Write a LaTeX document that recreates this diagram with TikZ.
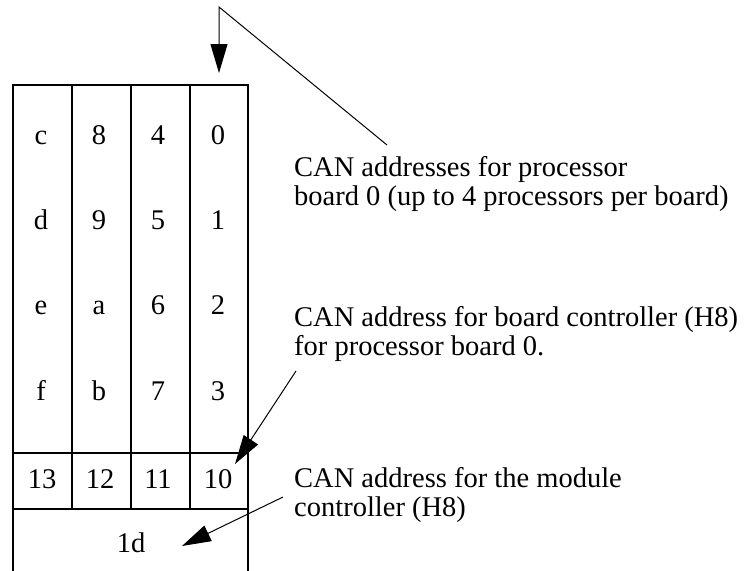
\documentclass[tikz,border=0pt]{standalone}
\usepackage{fontspec}
\setmainfont{Liberation Serif}
\usetikzlibrary{arrows.meta}
\tikzset{
  boxline/.style={line width=1.3pt, black},
  cell/.style={inner sep=0pt, anchor=base, font=\fontsize{28.5}{29}\selectfont},
  note/.style={inner sep=0pt, anchor=base west, align=left, font=\fontsize{28.5}{29}\selectfont},
  callout/.style={line width=1pt, -{Triangle[length=29pt,width=17pt]}},
  plainline/.style={line width=1pt}
}
\begin{document}
\begin{tikzpicture}[x=1pt,y=-1pt]
\useasboundingbox (0,0) rectangle (756,571);
% box outline
\draw[boxline] (13,571) -- (13,85) -- (248,85) -- (248,571);
\draw[boxline] (13,453) -- (248,453);
\draw[boxline] (13,509) -- (248,509);
\draw[boxline] (72,85) -- (72,509);
\draw[boxline] (131,85) -- (131,509);
\draw[boxline] (190,85) -- (190,509);
% cells
\foreach \t/\x/\y/\n in {c/41/144/c1, 8/99/144/c2, 4/158/144/c3, 0/218/144/c4,
  d/41/229/d1, 9/99/229/d2, 5/158/229/d3, 1/218/229/d4,
  e/41/314.5/e1, a/99/314.5/e2, 6/158/314.5/e3, 2/218/314.5/e4,
  f/41/400/f1, b/99/400/f2, 7/158/400/f3, 3/218/400/f4,
  13/42/488/g1, 12/100/488/g2, 11/158/488/g3, 10/218/488/g4}
  \node[cell] (\n) at (\x,\y) {\t};
\node[cell] (m) at (131,552) {1d};
% notes (base anchor = baseline of the last line)
\node[note] (n1) at (294,205.5) {CAN addresses for processor\\board 0 (up to 4 processors per board)};
\node[note] (n2) at (294,355) {CAN address for board controller (H8)\\for processor board 0.};
\node[note] (n3) at (294,516.5) {CAN address for the module\\controller (H8)};
% connectors
\coordinate (s1) at (387,145);
\coordinate (apex) at (219,7);
\coordinate (t1) at (219,73);
\draw[callout] (s1) -- (apex) -- (t1);
\coordinate (s2) at (296,371);
\coordinate (t2) at (235,464);
\draw[callout] (s2) -- (t2);
\coordinate (s3) at (283,497);
\coordinate (t3) at (182,546);
\draw[callout] (s3) -- (t3);
\end{tikzpicture}
\end{document}
